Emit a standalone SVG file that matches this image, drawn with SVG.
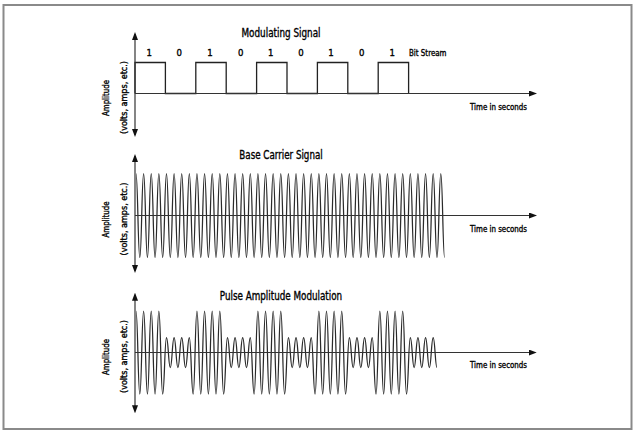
<svg xmlns="http://www.w3.org/2000/svg" width="637" height="448" viewBox="0 0 637 448">
<style>
text{font-family:"Liberation Sans Narrow","DejaVu Sans Condensed","Liberation Sans",sans-serif;fill:#000;stroke:#000;stroke-width:0.35px}
.title{font-size:12px;text-anchor:middle}
.bit{font-size:9.5px;text-anchor:middle}
.lbl{font-size:9.5px}
.amp{font-size:9.5px;text-anchor:middle}
.axis{fill:none;stroke:#333;stroke-width:1.2;marker-start:url(#ah);marker-end:url(#ah)}
.wave{fill:none;stroke:#2a2a2a;stroke-width:1.25}
.sq{fill:none;stroke:#222;stroke-width:1.3}
</style>
<defs>
<marker id="ah" viewBox="0 0 8 6" refX="6" refY="3" markerWidth="8" markerHeight="6" markerUnits="userSpaceOnUse" orient="auto-start-reverse">
<path d="M0,0 L8,3 L0,6 z" fill="#111"/>
</marker>
</defs>
<rect x="3.5" y="5" width="628" height="424" fill="#fff" stroke="#8a8a8a" stroke-width="2"/>

<g id="modulating">
<text class="title" x="281" y="36.5" textLength="79" lengthAdjust="spacingAndGlyphs">Modulating Signal</text>
<text class="bit" x="149.3" y="56">1</text>
<text class="bit" x="179.3" y="56">0</text>
<text class="bit" x="210" y="56">1</text>
<text class="bit" x="240.7" y="56">0</text>
<text class="bit" x="270.7" y="56">1</text>
<text class="bit" x="301" y="56">0</text>
<text class="bit" x="331" y="56">1</text>
<text class="bit" x="361.7" y="56">0</text>
<text class="bit" x="392.3" y="56">1</text>
<text class="lbl" x="409" y="56" textLength="37.5" lengthAdjust="spacingAndGlyphs">Bit Stream</text>
<text class="lbl" x="470" y="110" textLength="57" lengthAdjust="spacingAndGlyphs">Time in seconds</text>
<text class="amp" transform="translate(109,98) rotate(-90)" textLength="36" lengthAdjust="spacingAndGlyphs">Amplitude</text>
<text class="amp" transform="translate(126.5,97.5) rotate(-90)" textLength="73" lengthAdjust="spacingAndGlyphs">(volts, amps, etc.)</text>
<path class="sq" d="M135,93.5 V62.5 H165.4 V93.5 H195.8 V62.5 H226.2 V93.5 H256.6 V62.5 H287 V93.5 H317.4 V62.5 H347.8 V93.5 H378.2 V62.5 H408.6 V93.5"/>
</g>

<g id="carrier">
<text class="title" x="281" y="158.5" textLength="83.4" lengthAdjust="spacingAndGlyphs">Base Carrier Signal</text>
<text class="lbl" x="470" y="232" textLength="57" lengthAdjust="spacingAndGlyphs">Time in seconds</text>
<text class="amp" transform="translate(109,219.5) rotate(-90)" textLength="36" lengthAdjust="spacingAndGlyphs">Amplitude</text>
<text class="amp" transform="translate(126.5,219) rotate(-90)" textLength="73" lengthAdjust="spacingAndGlyphs">(volts, amps, etc.)</text>
<path class="wave" d="M136,173.5
c1.8,0 2.01,84 3.81,84 c1.8,0 2.01,-84 3.81,-84 c1.8,0 2.01,84 3.81,84 c1.8,0 2.01,-84 3.81,-84
c1.8,0 2.01,84 3.81,84 c1.8,0 2.01,-84 3.81,-84 c1.8,0 2.01,84 3.81,84 c1.8,0 2.01,-84 3.81,-84
c1.8,0 2.01,84 3.81,84 c1.8,0 2.01,-84 3.81,-84 c1.8,0 2.01,84 3.81,84 c1.8,0 2.01,-84 3.81,-84
c1.8,0 2.01,84 3.81,84 c1.8,0 2.01,-84 3.81,-84 c1.8,0 2.01,84 3.81,84 c1.8,0 2.01,-84 3.81,-84
c1.8,0 2.01,84 3.81,84 c1.8,0 2.01,-84 3.81,-84 c1.8,0 2.01,84 3.81,84 c1.8,0 2.01,-84 3.81,-84
c1.8,0 2.01,84 3.81,84 c1.8,0 2.01,-84 3.81,-84 c1.8,0 2.01,84 3.81,84 c1.8,0 2.01,-84 3.81,-84
c1.8,0 2.01,84 3.81,84 c1.8,0 2.01,-84 3.81,-84 c1.8,0 2.01,84 3.81,84 c1.8,0 2.01,-84 3.81,-84
c1.8,0 2.01,84 3.81,84 c1.8,0 2.01,-84 3.81,-84 c1.8,0 2.01,84 3.81,84 c1.8,0 2.01,-84 3.81,-84
c1.8,0 2.01,84 3.81,84 c1.8,0 2.01,-84 3.81,-84 c1.8,0 2.01,84 3.81,84 c1.8,0 2.01,-84 3.81,-84
c1.8,0 2.01,84 3.81,84 c1.8,0 2.01,-84 3.81,-84 c1.8,0 2.01,84 3.81,84 c1.8,0 2.01,-84 3.81,-84
c1.8,0 2.01,84 3.81,84 c1.8,0 2.01,-84 3.81,-84 c1.8,0 2.01,84 3.81,84 c1.8,0 2.01,-84 3.81,-84
c1.8,0 2.01,84 3.81,84 c1.8,0 2.01,-84 3.81,-84 c1.8,0 2.01,84 3.81,84 c1.8,0 2.01,-84 3.81,-84
c1.8,0 2.01,84 3.81,84 c1.8,0 2.01,-84 3.81,-84 c1.8,0 2.01,84 3.81,84 c1.8,0 2.01,-84 3.81,-84
c1.8,0 2.01,84 3.81,84 c1.8,0 2.01,-84 3.81,-84 c1.8,0 2.01,84 3.81,84 c1.8,0 2.01,-84 3.81,-84
c1.8,0 2.01,84 3.81,84 c1.8,0 2.01,-84 3.81,-84 c1.8,0 2.01,84 3.81,84 c1.8,0 2.01,-84 3.81,-84
c1.8,0 2.01,84 3.81,84 c1.8,0 2.01,-84 3.81,-84 c1.8,0 2.01,84 3.81,84 c1.8,0 2.01,-84 3.81,-84
c1.8,0 2.01,84 3.81,84 c1.8,0 2.01,-84 3.81,-84 c1.8,0 2.01,84 3.81,84 c1.8,0 2.01,-84 3.81,-84
c1.8,0 2.01,84 3.81,84 c1.8,0 2.01,-84 3.81,-84 c1.8,0 2.01,84 3.81,84 c1.8,0 2.01,-84 3.81,-84
c1.8,0 2.01,84 3.81,84 c1.8,0 2.01,-84 3.81,-84 c1.8,0 2.01,84 3.81,84 c1.8,0 2.01,-84 3.81,-84
c1.8,0 2.01,84 3.81,84 c1.8,0 2.01,-84 3.81,-84 c1.8,0 2.01,84 3.81,84 c1.8,0 2.01,-84 3.81,-84
c1.8,0 2.01,84 3.81,84"/>
</g>

<g id="pam">
<text class="title" x="281" y="300" textLength="122.3" lengthAdjust="spacingAndGlyphs">Pulse Amplitude Modulation</text>
<text class="lbl" x="470" y="368" textLength="57" lengthAdjust="spacingAndGlyphs">Time in seconds</text>
<text class="amp" transform="translate(109,357) rotate(-90)" textLength="36" lengthAdjust="spacingAndGlyphs">Amplitude</text>
<text class="amp" transform="translate(126.5,356.5) rotate(-90)" textLength="73" lengthAdjust="spacingAndGlyphs">(volts, amps, etc.)</text>
<path class="wave" d="M136,311
c1.8,0 2.01,83 3.81,83 c1.8,0 2.01,-83 3.81,-83 c1.8,0 2.01,83 3.81,83 c1.8,0 2.01,-83 3.81,-83 c1.8,0 2.01,83 3.81,83 c1.8,0 2.01,-83 3.81,-83 c1.8,0 2.01,83 3.81,83 c1.8,0 2.01,-56.5 3.81,-56.5
c1.8,0 2.01,30 3.81,30 c1.8,0 2.01,-30 3.81,-30 c1.8,0 2.01,30 3.81,30 c1.8,0 2.01,-30 3.81,-30 c1.8,0 2.01,30 3.81,30 c1.8,0 2.01,-30 3.81,-30 c1.8,0 2.01,56.5 3.81,56.5 c1.8,0 2.01,-83 3.81,-83
c1.8,0 2.01,83 3.81,83 c1.8,0 2.01,-83 3.81,-83 c1.8,0 2.01,83 3.81,83 c1.8,0 2.01,-83 3.81,-83 c1.8,0 2.01,83 3.81,83 c1.8,0 2.01,-83 3.81,-83 c1.8,0 2.01,83 3.81,83 c1.8,0 2.01,-56.5 3.81,-56.5
c1.8,0 2.01,30 3.81,30 c1.8,0 2.01,-30 3.81,-30 c1.8,0 2.01,30 3.81,30 c1.8,0 2.01,-30 3.81,-30 c1.8,0 2.01,30 3.81,30 c1.8,0 2.01,-30 3.81,-30 c1.8,0 2.01,56.5 3.81,56.5 c1.8,0 2.01,-83 3.81,-83
c1.8,0 2.01,83 3.81,83 c1.8,0 2.01,-83 3.81,-83 c1.8,0 2.01,83 3.81,83 c1.8,0 2.01,-83 3.81,-83 c1.8,0 2.01,83 3.81,83 c1.8,0 2.01,-83 3.81,-83 c1.8,0 2.01,83 3.81,83 c1.8,0 2.01,-56.5 3.81,-56.5
c1.8,0 2.01,30 3.81,30 c1.8,0 2.01,-30 3.81,-30 c1.8,0 2.01,30 3.81,30 c1.8,0 2.01,-30 3.81,-30 c1.8,0 2.01,30 3.81,30 c1.8,0 2.01,-30 3.81,-30 c1.8,0 2.01,56.5 3.81,56.5 c1.8,0 2.01,-83 3.81,-83
c1.8,0 2.01,83 3.81,83 c1.8,0 2.01,-83 3.81,-83 c1.8,0 2.01,83 3.81,83 c1.8,0 2.01,-83 3.81,-83 c1.8,0 2.01,83 3.81,83 c1.8,0 2.01,-83 3.81,-83 c1.8,0 2.01,83 3.81,83 c1.8,0 2.01,-56.5 3.81,-56.5
c1.8,0 2.01,30 3.81,30 c1.8,0 2.01,-30 3.81,-30 c1.8,0 2.01,30 3.81,30 c1.8,0 2.01,-30 3.81,-30 c1.8,0 2.01,30 3.81,30 c1.8,0 2.01,-30 3.81,-30 c1.8,0 2.01,56.5 3.81,56.5 c1.8,0 2.01,-83 3.81,-83
c1.8,0 2.01,83 3.81,83 c1.8,0 2.01,-83 3.81,-83 c1.8,0 2.01,83 3.81,83 c1.8,0 2.01,-83 3.81,-83 c1.8,0 2.01,83 3.81,83 c1.8,0 2.01,-83 3.81,-83 c1.8,0 2.01,83 3.81,83 c1.8,0 2.01,-56.5 3.81,-56.5
c1.8,0 2.01,30 3.81,30 c1.8,0 2.01,-30 3.81,-30 c1.8,0 2.01,30 3.81,30 c1.8,0 2.01,-30 3.81,-30 c1.8,0 2.01,30 3.81,30 c1.8,0 2.01,-30 3.81,-30 c1.8,0 2.01,30 3.81,30"/>
</g>

<g id="connectors">
<line class="axis" x1="135" y1="135" x2="135" y2="34"/>
<line class="axis" x1="135" y1="93.5" x2="535" y2="93.5" style="marker-start:none"/>
<line class="axis" x1="135" y1="271" x2="135" y2="156"/>
<line class="axis" x1="135" y1="215.5" x2="535" y2="215.5" style="marker-start:none"/>
<line class="axis" x1="135" y1="411.3" x2="135" y2="294.7"/>
<line class="axis" x1="135" y1="352.5" x2="534.7" y2="352.5" style="marker-start:none"/>
</g>
</svg>
